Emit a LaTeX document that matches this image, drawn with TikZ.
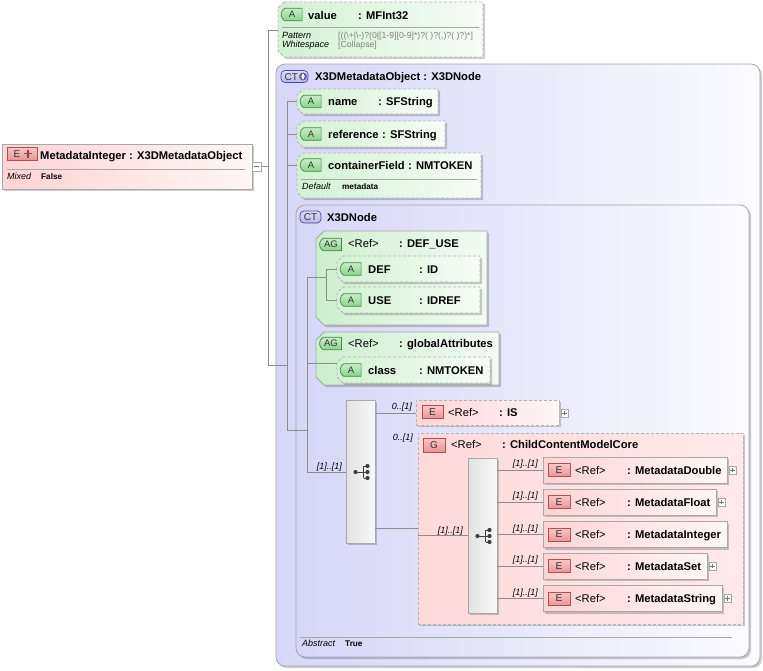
\documentclass[tikz,border=0pt]{standalone}
\usepackage{fontspec}
\setmainfont{Liberation Sans}
\usetikzlibrary{shadows,shapes.misc}
\definecolor{lineC}{HTML}{8C8C8C}
\definecolor{bordC}{HTML}{A8A8A8}
\definecolor{dashC}{HTML}{B4B4B4}
\definecolor{attrL}{HTML}{D2F2D2}
\definecolor{attrR}{HTML}{F6FDF6}
\definecolor{agL}{HTML}{CDEFCD}
\definecolor{agR}{HTML}{F2FBF2}
\definecolor{ctL}{HTML}{D6D6F8}
\definecolor{ctR}{HTML}{FBFBFF}
\definecolor{elL}{HTML}{FFD4D4}
\definecolor{elR}{HTML}{FFF6F6}
\definecolor{grpL}{HTML}{FFDADA}
\definecolor{grpR}{HTML}{FFE9E9}
\definecolor{seqL}{HTML}{E2E2E2}
\definecolor{seqR}{HTML}{F8F8F8}
\definecolor{aicL}{HTML}{C6EEC6}
\definecolor{aicR}{HTML}{8CD28C}
\definecolor{aicB}{HTML}{4A844A}
\definecolor{eicL}{HTML}{FAC8C8}
\definecolor{eicR}{HTML}{E89494}
\definecolor{eicB}{HTML}{B05050}
\definecolor{cticL}{HTML}{DCDCFA}
\definecolor{cticF}{HTML}{B8B8EE}
\definecolor{cticB}{HTML}{4848A0}
\definecolor{patC}{HTML}{808080}
\newcommand\chbox[6]{%
  \path[#1] ({#2+#6},#3) -- (#4,#3) -- (#4,#5) -- ({#2+#6},#5) -- (#2,{#5-#6}) -- (#2,{#3+#6}) -- cycle;}
\newcommand\seqicon[2]{%
  \draw[draw=black!75, line width=0.8pt] ({#1-5},#2) -- ({#1+3},#2) ({#1+3},{#2-6}) -- ({#1+3},{#2+6})
    ({#1+3},{#2-6}) -- ({#1+7},{#2-6}) ({#1+3},{#2+6}) -- ({#1+7},{#2+6}) ({#1+3},#2) -- ({#1+7},#2);
  \fill[black!75] ({#1-5},#2) circle[radius=2.1pt] ({#1+7},{#2-6}) circle[radius=2.1pt]
    ({#1+7},#2) circle[radius=2.1pt] ({#1+7},{#2+6}) circle[radius=2.1pt];}
\newcommand\plusmark[2]{%
  \draw[black!55, line width=0.6pt] ({#1-2.2},#2) -- ({#1+2.2},#2) (#1,{#2-2.2}) -- (#1,{#2+2.2});}
\tikzset{
  conn/.style={draw=lineC, line width=0.8pt},
  shd/.style={drop shadow={shadow xshift=2pt, shadow yshift=-2pt, fill=black, opacity=0.2}},
  bx/.style={rectangle, anchor=north west, inner sep=0pt, outer sep=0pt, line width=0.8pt},
  attrbx/.style={draw=dashC, dash pattern=on 3pt off 2pt, line width=0.8pt, left color=attrL, right color=attrR, shd},
  agbx/.style={draw=bordC, line width=0.8pt, left color=agL, right color=agR, shd},
  ctbx/.style={bx, draw=bordC, rounded corners=9pt, left color=ctL, right color=ctR, shd},
  elbx/.style={bx, draw=bordC, left color=elL, right color=elR, shd},
  elopt/.style={elbx, draw=dashC, dash pattern=on 3pt off 2pt},
  grpbx/.style={bx, draw=dashC, dash pattern=on 3pt off 2pt, left color=grpL, right color=grpR, shd},
  seqbx/.style={bx, draw=bordC, left color=seqL, right color=seqR, shd},
  aic/.style={rounded rectangle, rounded rectangle right arc=none, rounded rectangle arc length=120,
    draw=aicB, line width=0.7pt, top color=aicL, bottom color=aicR, minimum height=12.5pt,
    minimum width=21pt, inner sep=0pt, font=\fontsize{9.5}{10}\selectfont, text=black!80},
  eic/.style={rectangle, draw=eicB, line width=0.7pt, top color=eicL, bottom color=eicR,
    minimum height=13pt, minimum width=21pt, inner sep=0pt, font=\fontsize{10}{10}\selectfont, text=black!80},
  ctic/.style={rectangle, rounded corners=4pt, draw=cticB, line width=0.7pt, top color=cticL, bottom color=cticF,
    minimum height=12pt, minimum width=21pt, inner sep=0pt, font=\fontsize{10}{10}\selectfont, text=black!80},
  ictx/.style={anchor=base west, inner sep=0pt, font=\fontsize{10}{10}\selectfont, text=black!80},
  tx/.style={anchor=base west, inner sep=0pt, font=\fontsize{11.2}{13}\selectfont},
  tb/.style={anchor=base west, inner sep=0pt, font=\fontsize{11.2}{13}\selectfont\bfseries},
  si/.style={anchor=base west, inner sep=0pt, font=\fontsize{9}{10}\selectfont\itshape},
  sb/.style={anchor=base west, inner sep=0pt, font=\fontsize{8.2}{10}\selectfont\bfseries},
  pat/.style={anchor=base west, inner sep=0pt, font=\fontsize{8.7}{10}\selectfont, text=patC},
  mult/.style={anchor=base east, inner sep=0pt, font=\fontsize{9}{10}\selectfont\itshape},
  sepl/.style={draw=bordC, line width=0.8pt},
  plusbx/.style={rectangle, draw=bordC, fill=white, minimum width=7pt, minimum height=8pt, inner sep=0pt, line width=0.6pt, anchor=west},
}
\begin{document}
\begin{tikzpicture}[x=1pt,y=-1pt]
\useasboundingbox (0,0) rectangle (763,670);
\fill[white] (0,0) rectangle (763,670);

% ---------- main element ----------
\node[elbx, minimum width=250pt, minimum height=45pt] (mi) at (2,144) {};
\node[eic, minimum width=30pt] (miic) at (22,153.5) {};
\node[ictx] (miicE) at (13.5,157.3) {E};
\draw[eicB!80!black, line width=1.7pt] (24,153.5) -- (32,153.5) (28,149.5) -- (28,157.5);
\node[tb] (mit) at (40,159) {MetadataInteger : X3DMetadataObject};
\draw[sepl] (7,169) -- (245,169);
\node[si] (mimx) at (7,179.2) {Mixed};
\node[sb] (mimxv) at (41,179) {False};
\node[plusbx, minimum width=9pt, minimum height=9pt] (mimin) at (252,166.5) {};
\draw[black!55, line width=0.6pt] (254,166.5) -- (259,166.5);

% ---------- value attribute ----------
\chbox{attrbx}{278}{2}{483}{57}{6}
\coordinate (valc) at (278,30);
\node[aic] (valic) at (292,14.5) {A};
\node[tb] (valn) at (308,19) {value};
\node[tb] (valt) at (358,19) {: MFInt32};
\draw[sepl] (282,27) -- (479,27);
\node[si] (valp) at (282,38.2) {Pattern};
\node[si] (valw) at (282,47.2) {Whitespace};
\node[pat] (valpv) at (338,38) {[((\textbackslash+|\textbackslash-)?(0|[1-9][0-9]*)?( )?(,)?( )?)*]};
\node[pat] (valwv) at (338,47) {[Collapse]};

% ---------- CT X3DMetadataObject ----------
\node[ctbx, minimum width=484pt, minimum height=602pt] (ctmo) at (276,64) {};
\node[ctic, minimum width=27pt] (ctmoic) at (294.5,76.5) {};
\node[ictx] (ctmoict) at (284.5,80.3) {CT};
\fill[cticB!85] (303,76.5) circle[radius=4pt];
\draw[white, line width=1.3pt] (300.6,76.5) -- (305.4,76.5) (303,74.1) -- (303,78.9);
\node[tb] (ctmot) at (315,80) {X3DMetadataObject : X3DNode};

% name
\chbox{attrbx}{297}{89}{438}{114}{6}
\coordinate (namec) at (297,101.5);
\node[aic] (nameic) at (311,101.5) {A};
\node[tb] (namen) at (328,105.5) {name};
\node[tb] (namet) at (378,105.5) {: SFString};
% reference
\chbox{attrbx}{297}{121}{445}{147}{6}
\coordinate (refc) at (297,134);
\node[aic] (refic) at (311,134) {A};
\node[tb] (refn) at (328,138) {reference};
\node[tb] (reft) at (382,138) {: SFString};
% containerField
\chbox{attrbx}{297}{153}{481}{198}{6}
\coordinate (cfc) at (297,165);
\node[aic] (cfic) at (311,165) {A};
\node[tb] (cfn) at (328,169) {containerField};
\node[tb] (cft) at (408,169) {: NMTOKEN};
\draw[sepl] (301,179) -- (477,179);
\node[si] (cfd) at (302,189.2) {Default};
\node[sb] (cfdv) at (342,189) {metadata};

% ---------- CT X3DNode ----------
\node[ctbx, minimum width=453pt, minimum height=452pt] (ctnd) at (296,205) {};
\node[ctic] (ctndic) at (310.5,217) {CT};
\node[tb] (ctndt) at (327,221) {X3DNode};
\draw[sepl] (300,637) -- (732,637);
\node[si] (abs) at (302,646.2) {Abstract};
\node[sb] (absv) at (345,646) {True};

% AG DEF_USE
\chbox{agbx}{316}{231}{487}{325}{8}
\node[aic, minimum width=22pt] (dfuic) at (331,244.5) {AG};
\node[tx] (dfur) at (348,247) {<Ref>};
\node[tb] (dfut) at (399,247) {: DEF\_USE};
\chbox{attrbx}{337}{256}{480}{282}{6}
\coordinate (defc) at (337,269);
\node[aic] (defic) at (351,269) {A};
\node[tb] (defn) at (368,273) {DEF};
\node[tb] (deft) at (419,273) {: ID};
\chbox{attrbx}{337}{287}{480}{313}{6}
\coordinate (usec) at (337,300);
\node[aic] (useic) at (351,300) {A};
\node[tb] (usen) at (368,304) {USE};
\node[tb] (uset) at (419,304) {: IDREF};

% AG globalAttributes
\chbox{agbx}{316}{332}{499}{385}{8}
\node[aic, minimum width=22pt] (gaic) at (331,343.5) {AG};
\node[tx] (gar) at (348,347) {<Ref>};
\node[tb] (gat) at (399,347) {: globalAttributes};
\chbox{attrbx}{337}{357}{490}{383}{6}
\coordinate (clsc) at (337,363);
\node[aic] (clsic) at (351,370) {A};
\node[tb] (clsn) at (368,374) {class};
\node[tb] (clst) at (419,374) {: NMTOKEN};

% sequence 1
\node[seqbx, minimum width=29pt, minimum height=143pt] (seq1) at (346,400) {};
\seqicon{360.5}{472}

% IS
\node[elopt, minimum width=143pt, minimum height=25pt] (is) at (416,400) {};
\coordinate (isc) at (416,413);
\node[eic] (isic) at (432.5,412) {E};
\node[tx] (isr) at (448,416.5) {<Ref>};
\node[tb] (ist) at (499,416.5) {: IS};
\node[plusbx] (isp) at (561,413) {};
\plusmark{564.5}{413}

% group
\node[grpbx, minimum width=325pt, minimum height=191pt] (grp) at (418,433) {};
\coordinate (grpc) at (418,528);
\node[eic, minimum width=22pt, minimum height=14pt] (grpic) at (434,445) {G};
\node[tx] (grpr) at (451,448) {<Ref>};
\node[tb] (grpt) at (502,448) {: ChildContentModelCore};

% sequence 2
\node[seqbx, minimum width=29pt, minimum height=155pt] (seq2) at (468,458) {};
\seqicon{482.5}{536}

% referenced elements
\node[elbx, minimum width=184pt, minimum height=26pt] (edb) at (543,457) {};
\node[eic, minimum width=22pt] (edbic) at (559,470) {E};
\node[tx] (edbr) at (575,474) {<Ref>};
\node[tb] (edbt) at (627,474) {: MetadataDouble};
\node[plusbx] (edbp) at (729,470) {};
\plusmark{732.5}{470}

\node[elbx, minimum width=173pt, minimum height=26pt] (efl) at (543,489) {};
\node[eic, minimum width=22pt] (eflic) at (559,502) {E};
\node[tx] (eflr) at (575,506) {<Ref>};
\node[tb] (eflt) at (627,506) {: MetadataFloat};
\node[plusbx] (eflp) at (718,502) {};
\plusmark{721.5}{502}

\node[elbx, minimum width=184pt, minimum height=26pt] (ein) at (543,521.5) {};
\node[eic, minimum width=22pt] (einic) at (559,534.5) {E};
\node[tx] (einr) at (575,538.5) {<Ref>};
\node[tb] (eint) at (627,538.5) {: MetadataInteger};

\node[elbx, minimum width=164pt, minimum height=26pt] (est) at (543,553) {};
\node[eic, minimum width=22pt] (estic) at (559,566) {E};
\node[tx] (estr) at (575,570) {<Ref>};
\node[tb] (estt) at (627,570) {: MetadataSet};
\node[plusbx] (estp) at (709,566) {};
\plusmark{712.5}{566}

\node[elbx, minimum width=179pt, minimum height=26pt] (esg) at (543,585.5) {};
\node[eic, minimum width=22pt] (esgic) at (559,598.5) {E};
\node[tx] (esgr) at (575,602.5) {<Ref>};
\node[tb] (esgt) at (627,602.5) {: MetadataString};
\node[plusbx] (esgp) at (724,598.5) {};
\plusmark{727.5}{598.5}

% ---------- connectors ----------
\coordinate (t0a) at (268,166.5);
\coordinate (t0b) at (268,365);
\coordinate (t1a) at (287,365);
\coordinate (t1b) at (287,430);
\coordinate (t2a) at (307,430);
\coordinate (t2b) at (307,472);
\coordinate (t3) at (326,277);
\coordinate (t3b) at (326,300);
\draw[conn] (mimin.east) -- (t0a);
\draw[conn] (valc) -| (t0b) -- (t1a);
\draw[conn] (namec) -| (t1b) -- (t2a);
\draw[conn] (refc) -- (refc -| t1b);
\draw[conn] (cfc) -- (cfc -| t1b);
\draw[conn] (t3) -| (t2b) -- (seq1.west |- t2b);
\draw[conn] (defc) -| (t3b) -- (usec);
\draw[conn] (clsc) -- (clsc -| t2b);
\draw[conn] (seq1.east |- isc) -- (isc);
\draw[conn] (seq1.east |- grpc) -- (grpc);
\draw[conn] (grp.west |- seq2.west) -- (seq2.west);
\foreach \e in {edb,efl,ein,est,esg} {\draw[conn] (seq2.east |- \e.west) -- (\e.west);}

% multiplicities
\node[mult] (m1) at (412,409.5) {0..[1]};
\node[mult] (m2) at (413,440.5) {0..[1]};
\node[mult] (m3) at (342,469.5) {[1]..[1]};
\node[mult] (m4) at (463,533.5) {[1]..[1]};
\node[mult] (m5) at (538,466.5) {[1]..[1]};
\node[mult] (m6) at (538,498.5) {[1]..[1]};
\node[mult] (m7) at (538,531) {[1]..[1]};
\node[mult] (m8) at (538,562.5) {[1]..[1]};
\node[mult] (m9) at (538,595) {[1]..[1]};
\end{tikzpicture}
\end{document}
